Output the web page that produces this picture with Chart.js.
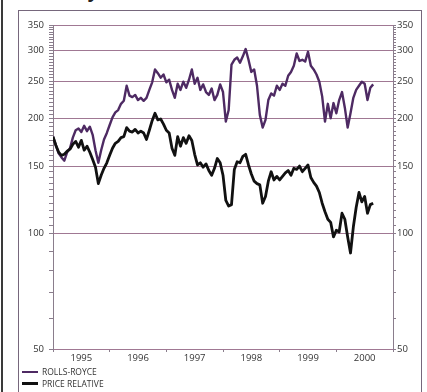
<!DOCTYPE html>
<html>
<head>
<meta charset="utf-8">
<script src="https://cdn.jsdelivr.net/npm/chart.js@4.4.1/dist/chart.umd.min.js"></script>
<style>
  html, body { margin: 0; padding: 0; background: #fff; }
  #wrap { position: relative; width: 427px; height: 392px; overflow: hidden; font-family: "Open Sans", sans-serif; }
  #edge { position: absolute; left: 1px; top: 0; width: 2px; height: 392px; background: #3a3a3a; }
  #box { position: absolute; left: 18px; top: 10px; width: 402px; height: 420px; border: 1px solid #76677c; }
  #title { position: absolute; left: 16px; top: -18px; font: bold 18px "Open Sans", sans-serif; line-height: 18px; color: #222; white-space: nowrap; }
  canvas { position: absolute; left: 0; top: 0; }
  #legend { position: absolute; left: 22px; top: 366px; font-size: 8.5px; color: #333; line-height: 11.5px; }
  .item { display: flex; align-items: center; }
  .swatch { width: 16px; height: 2.5px; margin-right: 4px; }
</style>
</head>
<body>
<div id="wrap">
  <div id="edge"></div>
  <div id="box"></div>
  <div id="title">Rolls-Royce</div>
  <canvas id="chart" width="427" height="392"></canvas>
  <div id="legend">
    <div class="item"><span class="swatch" style="background:#4e2a63"></span>ROLLS-ROYCE</div>
    <div class="item"><span class="swatch" style="background:#111"></span>PRICE RELATIVE</div>
  </div>
</div>
<script>
// ---- data (20 readings a year from Jan 1995) ----
const START_YEAR = 1995;
const PER_YEAR = 20;

const rollsRoyce = [
  179, 170, 162, 158, 155, 163, 167, 178, 186, 188,
  184, 191, 185, 190, 181, 165, 153, 165, 176, 183,
  192, 201, 207, 210, 218, 222, 243, 229, 227, 230,
  223, 226, 222, 226, 237, 248, 268, 262, 255, 260,
  248, 252, 237, 226, 246, 237, 249, 240, 252, 268,
  246, 255, 237, 245, 234, 230, 239, 223, 230, 245,
  234, 196, 210, 276, 284, 288, 279, 290, 303, 284,
  264, 268, 243, 204, 189, 198, 223, 232, 229, 243,
  237, 246, 243, 258, 264, 274, 295, 282, 284, 281,
  298, 274, 268, 260, 249, 228, 196, 218, 200, 219,
  206, 223, 234, 213, 189, 206, 226, 237, 243, 249,
  246, 223, 240, 245
];

const priceRelative = [
  179, 170, 163, 160, 161, 164, 166, 171, 174, 168,
  175, 165, 169, 163, 156, 149, 135, 142, 148, 153,
  160, 167, 172, 174, 178, 179, 189, 185, 184, 187,
  183, 185, 183, 176, 186, 197, 206, 198, 199, 193,
  186, 183, 167, 160, 179, 169, 178, 172, 180, 175,
  161, 151, 153, 149, 152, 146, 142, 148, 157, 153,
  142, 122, 118, 119, 147, 154, 153, 159, 161, 151,
  143, 137, 135, 134, 120, 125, 137, 145, 138, 141,
  138, 141, 144, 146, 142, 148, 147, 150, 145, 148,
  151, 140, 136, 133, 128, 120, 114, 109, 107, 98,
  102, 101, 113, 109, 98, 89, 104, 117, 128, 121,
  125, 113, 119, 120
];

const yearLabels = ['1995', '1996', '1997', '1998', '1999', '2000'];
const majorTicks = [50, 100, 150, 200, 250, 300, 350];

const dates = rollsRoyce.map((_, i) => START_YEAR + i / PER_YEAR);

// minor ticks: every 10 below 100, every 5 above
const yTicks = [];
for (let v = 50; v < 100; v += 10) yTicks.push(v);
for (let v = 100; v <= 350; v += 5) yTicks.push(v);

// year boundaries carry the marks, mid-years carry the labels
const xTicks = [];
yearLabels.forEach((_, i) => { xTicks.push(START_YEAR + i, START_YEAR + i + 0.5); });
xTicks.push(START_YEAR + yearLabels.length);

const purple = '#4e2a63';
const gridCol = '#a07893';
const axisCol = '#8a7d8c';
const tickFont = { family: 'Open Sans', size: 9.5 };

function yScale(position, width, tickLength, padding, onChart) {
  return {
    type: 'logarithmic',
    position: position,
    min: 50,
    max: 350,
    afterBuildTicks: s => { s.ticks = yTicks.map(v => ({ value: v })); },
    afterFit: s => { s.width = width; },
    ticks: {
      autoSkip: false,
      padding: padding,
      color: '#333',
      font: tickFont,
      callback: v => majorTicks.includes(v) ? String(v) : ''
    },
    grid: {
      drawOnChartArea: onChart,
      tickLength: tickLength,
      color: c => (majorTicks.includes(c.tick.value) && c.tick.value > 50) ? gridCol : 'rgba(0,0,0,0)',
      tickColor: axisCol
    },
    border: { color: axisCol }
  };
}

new Chart(document.getElementById('chart'), {
  type: 'line',
  data: {
    labels: dates,
    datasets: [
      {
        label: 'Rolls-Royce',
        data: rollsRoyce,
        borderColor: purple,
        borderWidth: 2.4,
        pointRadius: 0,
        borderJoinStyle: 'round',
        order: 2
      },
      {
        label: 'Price relative',
        data: priceRelative,
        borderColor: '#111',
        borderWidth: 2.8,
        pointRadius: 0,
        borderJoinStyle: 'round',
        order: 1
      }
    ]
  },
  options: {
    responsive: false,
    animation: false,
    devicePixelRatio: 1,
    layout: { padding: { top: 25, left: 0, right: 0, bottom: 0 } },
    plugins: { legend: { display: false }, tooltip: { enabled: false } },
    scales: {
      x: {
        type: 'linear',
        min: 1995,
        max: 2001,
        afterBuildTicks: s => { s.ticks = xTicks.map(v => ({ value: v })); },
        afterFit: s => { s.height = 43; },
        ticks: {
          autoSkip: false,
          maxRotation: 0,
          padding: 1,
          color: '#333',
          font: tickFont,
          callback: v => Number.isInteger(v) ? '' : yearLabels[Math.floor(v) - START_YEAR]
        },
        grid: {
          drawOnChartArea: false,
          tickLength: 3,
          tickColor: c => Number.isInteger(c.tick.value) ? axisCol : 'rgba(0,0,0,0)'
        },
        border: { color: gridCol }
      },
      y: yScale('left', 53, 4, 5, true),
      y2: yScale('right', 34, 3, 1, false)
    }
  }
});
</script>
</body>
</html>
